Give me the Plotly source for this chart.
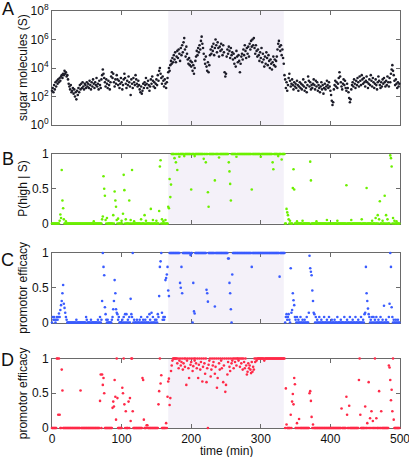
import plotly.graph_objects as go

# ---------------- data ----------------
time_min = list(range(500))

# panel A: log10 of sugar molecule count, one value per minute
sugar_log10 = [
    2.4,2.6,2.3,2.8,2.5, 3.0,2.7,3.1,2.9,3.2, 3.0,3.3,3.1,3.4,3.5, 3.3,3.6,3.5,3.8,3.6, 3.7,3.4,3.5,3.2,2.9,
    2.7,2.5,2.8,2.3,2.4, 2.6,2.2,2.5,2.0,2.3, 1.8,2.4,2.1,2.6,2.3, 2.8,2.5,2.9,2.6,3.0, 2.7,2.5,2.9,2.8,2.6,
    3.0,2.7,2.9,2.6,3.1, 2.8,2.5,3.0,2.7,3.2, 2.9,2.6,3.0,2.8,3.3, 2.7,2.9,2.5,3.1,2.8, 2.6,3.2,3.5,3.9,3.6,
    3.3,3.0,2.7,3.2,2.9, 2.6,3.1,2.8,2.5,3.0, 3.4,3.7,3.3,3.6,3.0, 2.7,3.2,2.9,3.5,3.2, 2.8,3.1,2.6,2.9,3.3,
    3.0,2.5,2.8,3.2,3.6, 3.3,2.9,2.6,3.1,2.8, 3.4,3.0,2.7,2.1,3.2, 2.9,2.6,3.3,3.0,2.8, 3.5,3.2,2.9,2.7,3.1,
    2.8,2.5,2.3,2.7,2.2, 2.4,2.9,2.6,3.0,2.8, 3.3,2.9,2.6,3.1,2.8, 2.4,2.7,3.2,2.9,3.4, 3.1,2.7,3.0,2.6,2.9,
    3.2,2.8,3.5,3.1,3.8, 4.0,3.6,3.3,2.9,3.4, 3.1,2.7,3.2,2.9,2.6, 3.0,3.3,3.7,4.0,3.8, 4.2,4.5,4.3,4.7,4.4,
    4.9,4.6,5.1,4.4,4.8, 5.2,4.7,5.3,5.0,4.5, 5.4,4.9,5.6,5.1,5.8, 6.1,5.3,4.8,5.5,5.0, 4.6,4.3,4.7,4.2,4.5,
    4.1,4.4,3.8,4.2,3.6, 4.0,4.5,4.8,5.2,4.9, 5.4,5.1,5.6,5.3,5.9, 6.2,5.7,5.4,5.0,4.6, 4.3,4.8,4.1,3.8,4.4,
    3.7,4.2,4.9,5.3,5.0, 5.5,5.2,5.7,4.9,5.4, 6.0,5.6,5.1,5.8,5.4, 4.8,5.5,5.2,5.7,5.3, 4.9,5.6,5.1,3.7,3.4,
    3.6,4.8,5.3,5.0,5.5, 5.2,4.7,5.4,4.9,5.1, 4.6,5.0,4.3,4.7,4.1, 5.2,4.8,4.4,4.9,4.5, 3.7,4.3,4.8,5.0,4.6,
    5.3,4.9,5.6,5.2,4.7, 5.4,5.0,5.5,4.8,5.7, 5.3,5.9,5.5,6.0,5.6, 6.1,5.4,5.0,5.6,5.2, 4.8,5.3,4.9,4.5,5.1,
    4.7,5.4,4.4,5.0,4.6, 4.1,4.8,4.3,5.1,4.7, 4.2,4.9,4.5,4.0,4.6, 4.3,3.9,4.4,4.8,4.2, 4.6,4.1,4.5,4.8,5.3,
    5.7,5.9,5.5,5.2,5.6, 4.9,5.3,4.7,4.3,3.5, 3.2,2.6,3.0,2.4,2.8, 3.3,3.6,3.1,2.7,2.9, 3.2,2.8,2.5,3.0,2.7,
    2.9,2.6,3.1,2.8,2.4, 2.7,3.0,2.6,2.9,2.5, 2.8,3.2,2.7,2.4,3.0, 2.6,2.3,2.8,3.4,3.1, 2.7,3.0,2.5,2.8,2.6,
    2.9,3.2,2.8,2.5,3.1, 2.7,3.0,2.4,2.8,2.6, 2.3,2.7,3.0,2.5,2.8, 2.2,2.6,2.9,2.5,2.7, 3.1,2.8,2.6,3.0,2.7,
    2.4,2.1,1.7,1.4,1.6, 2.5,2.8,3.1,2.7,3.0, 2.6,2.9,3.3,3.7,3.4, 3.0,2.7,2.5,2.9,3.2, 2.8,3.1,2.6,2.4,2.9,
    2.6,2.3,1.9,1.6,1.8, 2.5,2.8,3.0,2.7,3.2, 2.9,2.6,3.1,2.8,3.3, 3.0,2.7,3.4,3.1,2.8, 3.5,3.2,2.9,3.3,3.0,
    2.7,3.1,3.4,3.0,2.6, 2.9,3.2,2.8,3.5,3.1, 2.7,3.3,3.0,2.6,2.9, 3.2,2.8,2.5,3.0,3.4, 3.1,2.8,2.6,3.0,2.7,
    3.2,2.9,3.3,3.0,2.7, 3.1,2.8,3.4,3.0,2.7, 3.3,3.0,3.6,3.9,4.2, 3.8,3.5,3.1,2.8,3.2, 2.9,2.6,3.0,2.7,2.9,
]

# panel B: P(high | S) -- runs of constant value [start, end, value] plus off-run points (t, value)
p_high_runs = [[0, 168, 0.0], [169, 334, 1.0], [335, 499, 0.0]]
p_high_points = [
    (11,0.04),(12,0.13),(13,0.08),(14,0.77),(15,0.33),(16,0.22),(17,0.06),(20,0.03),(60,0.03),
    (72,0.06),(73,0.10),(74,0.68),(75,0.50),(76,0.40),(77,0.05),(79,0.08),
    (88,0.12),(90,0.46),(91,0.33),(92,0.24),(93,0.05),(95,0.07),
    (100,0.04),(102,0.14),(103,0.70),(104,0.48),(106,0.06),(111,0.33),(113,0.05),(115,0.77),(118,0.03),
    (128,0.06),(133,0.12),(135,0.04),(142,0.21),(145,0.05),
    (150,0.04),(154,0.18),(155,0.82),(156,0.91),(158,0.06),(160,0.03),(163,0.05),
    (167,0.24),(168,0.22),(169,0.64),(170,0.38),(171,0.56),
    (176,0.94),(178,0.88),(180,0.77),(183,0.96),(190,0.97),(200,0.49),(205,0.97),(218,0.93),(221,0.88),
    (224,0.45),(225,0.24),(234,0.62),(240,0.95),(254,0.88),(255,0.75),(256,0.57),(257,0.33),(265,0.96),
    (287,0.49),(300,0.96),(317,0.88),(318,0.78),(325,0.97),(330,0.92),
    (337,0.21),(338,0.16),(339,0.12),(340,0.06),(342,0.04),(346,0.51),(347,0.78),(348,0.49),(352,0.03),
    (360,0.04),(371,0.89),(372,0.62),(380,0.03),(395,0.05),(410,0.04),(423,0.55),(430,0.05),(445,0.06),
    (452,0.51),(460,0.04),(465,0.08),(468,0.12),(470,0.06),(471,0.32),(475,0.04),(478,0.40),(480,0.12),
    (482,0.06),(486,0.98),(487,0.94),(488,0.82),(490,0.08),(492,0.04),(495,0.03),
]

# panel C: promotor efficacy (blue)
eff_c_runs = [[0, 166, 0.0], [167, 334, 1.0], [335, 499, 0.0]]
eff_c_points = [
    (1,0.08),(2,0.04),(3,0.08),(4,0.04),(6,0.04),(7,0.08),(8,0.04),(9,0.08),(10,0.13),(11,0.08),
    (12,0.18),(13,0.25),(14,0.31),(15,0.42),(16,0.54),(17,0.27),(18,0.21),(19,0.14),(20,0.08),(21,0.04),
    (35,0.04),(49,0.08),(50,0.04),(56,0.04),(66,0.04),(69,0.08),(71,0.04),(72,0.31),(73,1.0),(74,0.80),
    (75,0.68),(76,0.22),(77,0.12),(78,0.04),(80,0.04),
    (86,0.04),(87,0.08),(88,0.19),(89,0.31),(90,0.61),(91,0.42),(92,0.19),(93,0.14),(94,0.12),(95,0.04),(96,0.08),
    (101,0.04),(103,0.08),(105,0.12),(107,0.12),(109,0.04),(111,0.08),(113,0.34),(114,0.12),(115,0.08),
    (116,1.0),(118,0.04),(122,0.04),(126,0.04),(128,0.08),(131,0.04),(134,0.04),(137,0.08),(140,0.12),
    (141,0.04),(143,0.14),(145,0.08),(148,0.04),(150,0.04),(152,0.12),(153,0.08),(154,0.38),(155,0.80),
    (156,0.88),(157,1.0),(158,0.14),(159,0.04),(160,0.08),(161,0.04),(162,0.08),
    (163,0.61),(164,0.64),(165,0.69),(166,0.80),(167,0.46),(168,0.38),
    (184,0.57),(185,0.50),(186,0.80),(187,0.42),(199,0.97),(202,0.0),(203,0.57),(204,0.16),(205,0.13),
    (222,0.47),(223,0.42),(224,0.30),(234,0.23),(253,0.92),(254,0.92),(255,0.57),(256,0.42),(257,0.19),
    (258,0.0),(259,0.69),(287,0.80),(327,0.66),
    (336,0.08),(337,0.12),(338,0.04),(339,0.08),(340,0.12),(341,0.04),(343,0.78),(344,0.14),(345,0.18),
    (346,0.42),(347,0.32),(348,0.25),(349,0.08),(350,0.04),(352,0.08),(354,0.04),(357,0.08),(360,0.04),
    (363,0.04),(366,0.08),(369,0.14),(370,0.96),(371,0.78),(372,0.73),(373,0.68),(374,0.46),(375,0.31),
    (376,0.14),(377,0.12),(379,0.08),(381,0.04),(384,0.08),(387,0.04),(391,0.08),(395,0.04),(398,0.08),
    (402,0.04),(406,0.04),(410,0.08),(415,0.04),(420,0.08),(424,0.04),(428,0.08),(432,0.04),(436,0.08),
    (440,0.04),(444,0.08),(447,0.04),(449,0.12),(450,0.14),(451,0.80),(452,0.42),(453,0.31),(454,0.20),
    (455,0.12),(456,0.08),(458,0.04),(460,0.08),(462,0.08),(464,0.04),(466,0.08),(469,0.04),(472,0.08),
    (475,0.04),(477,0.24),(480,0.04),(484,0.08),(485,0.27),(486,1.0),(487,0.80),(488,0.22),(489,0.08),
    (491,0.04),(494,0.04),(497,0.04),
]

# panel D: promotor efficacy (red)
eff_d_runs = [[0, 173, 0.0], [174, 334, 1.0], [335, 499, 0.0]]
eff_d_points = [
    (7,1.0),(8,1.0),(9,0.19),(10,1.0),(11,0.19),(14,0.84),(15,0.54),(41,0.54),(69,0.39),(70,0.77),
    (72,0.77),(73,0.62),(74,0.72),(75,0.50),(87,0.29),(88,0.38),(89,0.31),(90,0.69),(91,0.45),(92,0.12),
    (93,1.0),(94,0.43),(101,0.58),(102,0.50),(103,1.0),(104,0.34),(106,0.24),(110,0.38),(112,0.43),
    (113,0.10),(114,1.0),(115,1.0),(116,0.24),(130,0.72),(131,0.69),(132,0.12),(136,0.04),(137,0.04),
    (153,0.34),(154,0.53),(155,1.0),(156,0.64),(157,0.76),(164,0.07),(166,0.45),(167,0.67),(168,0.71),
    (169,0.33),(170,0.43),(171,0.82),(172,0.90),(173,0.97),
    (180,0.93),(182,0.86),(183,0.97),(185,0.90),(186,0.95),(188,0.84),(189,0.93),(191,0.88),(193,0.62),
    (194,0.97),(196,0.86),(197,0.72),(199,0.91),(200,0.95),(202,0.82),(203,0.89),(205,0.97),(207,0.93),
    (208,0.86),(210,0.72),(211,0.91),(213,0.84),(214,0.95),(216,0.67),(217,0.88),(219,0.93),(220,0.78),
    (222,0.66),(223,0.86),(224,0.0),(225,0.91),(226,0.97),(228,0.74),(229,0.84),(231,0.90),(232,0.95),
    (234,0.78),(235,0.88),(237,0.58),(238,0.72),(240,0.93),(241,0.84),(243,0.97),(244,0.86),(246,0.66),
    (247,0.90),(249,0.52),(250,0.62),(252,0.77),(253,0.95),(255,0.88),(256,0.82),(258,0.93),(259,0.97),
    (261,0.86),(263,0.95),(265,0.90),(268,0.97),(270,0.88),(272,0.93),(274,0.84),(276,0.95),(277,0.86),
    (279,0.90),(280,0.77),(281,0.81),(282,0.93),(283,0.86),(284,0.90),(285,0.84),(286,0.79),(287,0.95),
    (288,0.81),(289,0.88),(290,0.84),(292,0.95),(294,0.97),(305,0.97),
    (336,0.57),(337,0.05),(343,0.19),(345,0.38),(346,0.49),(347,0.34),(348,0.72),(349,0.63),(352,0.07),
    (355,0.13),(370,0.50),(371,0.53),(372,0.39),(373,0.16),(375,0.05),(416,0.28),(423,0.45),(424,0.19),
    (427,0.32),(441,0.69),(442,1.0),(443,0.19),(450,0.31),(453,0.07),(455,0.66),(457,0.14),(459,0.24),
    (461,0.10),(464,1.0),(466,0.14),(470,0.53),(473,0.24),(484,0.90),(485,0.87),(486,0.69),(487,0.40),
    (488,0.55),(489,0.24),(490,1.0),(491,0.12),
]

shade_start, shade_end = 167, 333
x_tickvals = [0, 100, 200, 300, 400, 500]
a_tickvals = [1, 1e2, 1e4, 1e6, 1e8]
a_ticktext = ["10<sup>0</sup>", "10<sup>2</sup>", "10<sup>4</sup>", "10<sup>6</sup>", "10<sup>8</sup>"]
frac_tickvals = [0, 0.5, 1]
frac_ticktext = ["0", "0.5", "1"]
panel_letters = ["A", "B", "C", "D"]
y_titles = ["sugar molecules (S)", "P(high | S)", "promotor efficacy", "promotor efficacy"]
x_title = "time (min)"


def expand(runs, points):
    vals = {}
    for a, b, v in runs:
        for t in range(a, b + 1):
            vals[t] = v
    for t, v in points:
        vals[t] = v
    return [vals[t] for t in time_min]


sugar = [10 ** v for v in sugar_log10]
p_high = expand(p_high_runs, p_high_points)
eff_c = expand(eff_c_runs, eff_c_points)
eff_d = expand(eff_d_runs, eff_d_points)

# ---------------- figure ----------------
W, H = 409, 457
ML, MR, MT, MB = 52, 9, 11, 29
plot_h = H - MT - MB


def py(pix):
    return (H - MB - pix) / plot_h


def px(pix):
    return (pix - ML) / (W - ML - MR)


FONT = "Liberation Sans, Arial, Helvetica, sans-serif"
FRAME = "#6a6a6a"

domains = [
    [py(125), py(11)],
    [py(223.5), py(154)],
    [py(322.5), py(253)],
    [py(428), py(358.5)],
]

fig = go.Figure()
series = [
    (sugar, "#1c1c28"),
    (p_high, "#6cf000"),
    (eff_c, "#3a5cff"),
    (eff_d, "#ff2a48"),
]
for i, (vals, col) in enumerate(series):
    n = "" if i == 0 else str(i + 1)
    fig.add_trace(go.Scatter(
        x=time_min, y=vals, mode="markers",
        marker=dict(size=2.6, color=col, line=dict(width=0)),
        xaxis="x" + n, yaxis="y" + n, cliponaxis=False, showlegend=False,
    ))
    fig.add_shape(type="rect", xref="x" + n, yref="y" + n + " domain",
                  x0=shade_start, x1=shade_end, y0=0, y1=1,
                  fillcolor="#f4f1f9", line=dict(width=0), layer="below")

common_x = dict(range=[0, 500], tickvals=x_tickvals, ticks="inside", ticklen=4,
                tickcolor=FRAME, showline=True, linecolor=FRAME, linewidth=1, mirror="ticks",
                showgrid=False, zeroline=False, domain=[0, 1], automargin=False,
                layer="below traces", ticklabeloverflow="allow",
                tickfont=dict(family=FONT, size=12, color="#111"))
common_y = dict(ticks="inside", ticklen=4, tickcolor=FRAME, showline=True, linecolor=FRAME,
                linewidth=1, mirror="ticks", showgrid=False, zeroline=False, automargin=False,
                layer="below traces", ticklabeloverflow="allow",
                tickfont=dict(family=FONT, size=12, color="#111"))

layout = dict(width=W, height=H, margin=dict(l=ML, r=MR, t=MT, b=MB, autoexpand=False),
              paper_bgcolor="white", plot_bgcolor="white", template="none",
              font=dict(family=FONT, size=12, color="#111"))
for i in range(4):
    n = "" if i == 0 else str(i + 1)
    xa = dict(common_x, anchor="y" + n, showticklabels=(i == 3))
    ya = dict(common_y, anchor="x" + n, domain=domains[i])
    if i == 0:
        ya.update(type="log", range=[0, 8], tickvals=a_tickvals, ticktext=a_ticktext)
    else:
        ya.update(range=[0, 1], tickvals=frac_tickvals, ticktext=frac_ticktext)
    layout["xaxis" + n] = xa
    layout["yaxis" + n] = ya
fig.update_layout(**layout)

letter_y = [9, 159, 260, 360]
title_x = 23
for i in range(4):
    fig.add_annotation(xref="paper", yref="paper", x=px(8), y=py(letter_y[i]),
                       text=panel_letters[i], showarrow=False, xanchor="center", yanchor="middle",
                       font=dict(family=FONT, size=18, color="#111"))
    d0, d1 = domains[i]
    fig.add_annotation(xref="paper", yref="paper", x=px(title_x), y=(d0 + d1) / 2,
                       text=y_titles[i], showarrow=False, textangle=-90,
                       xanchor="center", yanchor="middle",
                       font=dict(family=FONT, size=12, color="#111"))
fig.add_annotation(xref="paper", yref="paper", x=0.5, y=py(451),
                   text=x_title, showarrow=False, xanchor="center", yanchor="middle",
                   font=dict(family=FONT, size=12, color="#111"))

fig.write_html("out.html", config={"displayModeBar": False},
               post_script="document.body.style.margin='0';document.body.style.overflow='hidden';")
